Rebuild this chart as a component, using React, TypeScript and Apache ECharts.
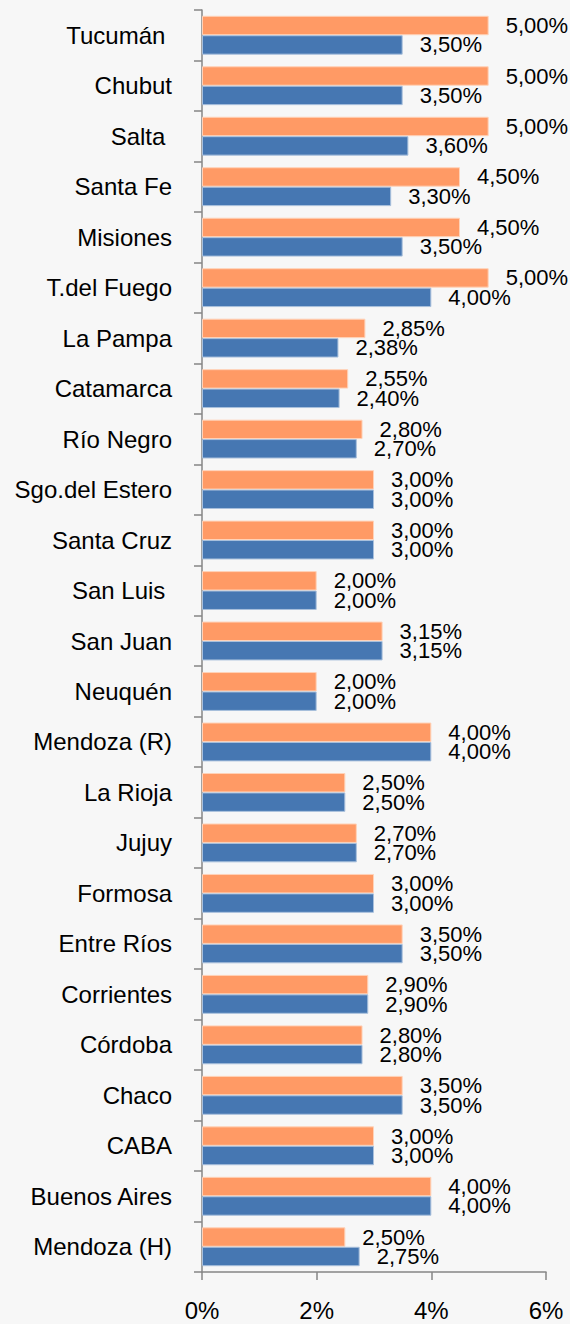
import React, { useEffect, useRef } from "react";
import * as echarts from "echarts";

const categories = [
  "Tucumán ",
  "Chubut",
  "Salta ",
  "Santa Fe",
  "Misiones",
  "T.del Fuego",
  "La Pampa",
  "Catamarca",
  "Río Negro",
  "Sgo.del Estero",
  "Santa Cruz",
  "San Luis ",
  "San Juan",
  "Neuquén",
  "Mendoza (R)",
  "La Rioja",
  "Jujuy",
  "Formosa",
  "Entre Ríos",
  "Corrientes",
  "Córdoba",
  "Chaco",
  "CABA",
  "Buenos Aires",
  "Mendoza (H)",
];

const orangeValues = [
  5.0, 5.0, 5.0, 4.5, 4.5, 5.0, 2.85, 2.55, 2.8, 3.0, 3.0, 2.0, 3.15, 2.0, 4.0,
  2.5, 2.7, 3.0, 3.5, 2.9, 2.8, 3.5, 3.0, 4.0, 2.5,
];

const blueValues = [
  3.5, 3.5, 3.6, 3.3, 3.5, 4.0, 2.38, 2.4, 2.7, 3.0, 3.0, 2.0, 3.15, 2.0, 4.0,
  2.5, 2.7, 3.0, 3.5, 2.9, 2.8, 3.5, 3.0, 4.0, 2.75,
];

const xTicks = [0, 2, 4, 6];

const FONT = "'Liberation Sans', Arial, sans-serif";

const fmt = (v: number) => v.toFixed(2).replace(".", ",") + "%";

export default function App() {
  const ref = useRef<HTMLDivElement>(null);

  useEffect(() => {
    if (!ref.current) return;
    const chart = echarts.init(ref.current, undefined, { renderer: "svg" });
    const labelCfg = {
      show: true,
      position: "right" as const,
      distance: 17,
      color: "#000",
      fontSize: 22,
      fontFamily: FONT,
      formatter: (p: any) => fmt(p.value),
    };
    chart.setOption({
      animation: false,
      backgroundColor: "#f7f7f7",
      grid: { left: 202, right: 24, top: 10, bottom: 52 },
      xAxis: {
        type: "value",
        min: xTicks[0],
        max: xTicks[xTicks.length - 1],
        interval: 2,
        splitLine: { show: false },
        axisLine: { show: true, lineStyle: { color: "#868686", width: 1.5 } },
        axisTick: { show: true, length: 8, lineStyle: { color: "#868686", width: 1.5 } },
        axisLabel: {
          color: "#000",
          fontSize: 24,
          fontFamily: FONT,
          margin: 26,
          formatter: (v: number) => v + "%",
        },
      },
      yAxis: {
        type: "category",
        inverse: true,
        data: categories,
        axisLine: { show: true, lineStyle: { color: "#868686", width: 1.5 } },
        axisTick: { show: true, length: 8, alignWithLabel: false, lineStyle: { color: "#868686", width: 1.5 } },
        axisLabel: {
          color: "#000",
          fontSize: 24,
          fontFamily: FONT,
          margin: 30,
        },
      },
      series: [
        {
          name: "A",
          type: "bar",
          data: orangeValues,
          barGap: "0%",
          barCategoryGap: "23%",
          itemStyle: { color: "#ff9a65", borderColor: "#ffd2b8", borderWidth: 1 },
          label: labelCfg,
        },
        {
          name: "B",
          type: "bar",
          data: blueValues,
          barGap: "0%",
          barCategoryGap: "23%",
          itemStyle: { color: "#4677b2", borderColor: "#a9c0dc", borderWidth: 1 },
          label: labelCfg,
        },
      ],
    });
    return () => chart.dispose();
  }, []);

  return (
    <div
      ref={ref}
      style={{ position: "fixed", left: 0, top: 0, width: 570, height: 1324, background: "#f7f7f7" }}
    />
  );
}
